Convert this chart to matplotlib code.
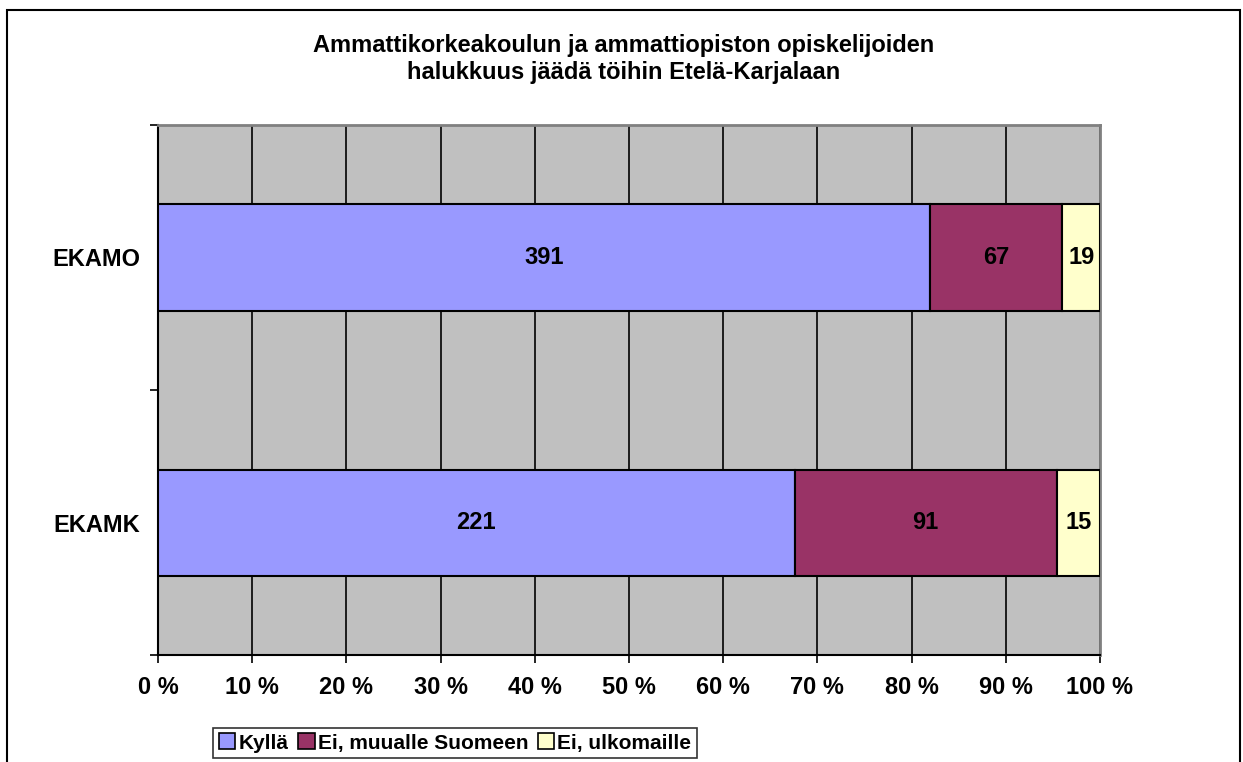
import numpy as np
import matplotlib
matplotlib.use('Agg')
import matplotlib.pyplot as plt
from matplotlib.patches import Rectangle, Patch

plt.rcParams['font.family'] = ['Liberation Sans', 'DejaVu Sans']
plt.rcParams['font.weight'] = 'bold'

# Data
categories = ['EKAMK', 'EKAMO']
kylla = [221, 391]
muualle = [91, 67]
ulkomaille = [15, 19]
series_names = ['Kyllä', 'Ei, muualle Suomeen', 'Ei, ulkomaille']
colors = ['#9999FF', '#993366', '#FFFFCC']
title = 'Ammattikorkeakoulun ja ammattiopiston opiskelijoiden\nhalukkuus jäädä töihin Etelä-Karjalaan'

W, H = 1243, 762
fig = plt.figure(figsize=(W / 100, H / 100), dpi=100)
ax = fig.add_axes([158 / W, 1 - 655 / H, (1100 - 158) / W, (655 - 125) / H])
ax.set_facecolor('#C0C0C0')

series = [np.array(kylla, float), np.array(muualle, float), np.array(ulkomaille, float)]
totals = sum(series)
y = np.arange(len(categories))
left = np.zeros(len(categories))
for vals, name, col in zip(series, series_names, colors):
    share = vals / totals * 100
    ax.barh(y, share, left=left, height=0.4, color=col, edgecolor='black',
            linewidth=1.5, label=name, zorder=3)
    for yi, l, s, v in zip(y, left, share, vals):
        ax.text(l + s / 2, yi, f'{int(v)}', ha='center', va='center',
                fontsize=17, fontweight='bold', zorder=4)
    left += share

ax.set_xlim(0, 100)
ax.set_ylim(-0.5, 1.5)
ax.set_xticks(np.arange(0, 101, 10))
ax.set_xticklabels([f'{t} %' for t in range(0, 101, 10)], fontsize=17, fontweight='bold')
ax.tick_params(axis='x', length=6, width=1.2, pad=9, direction='out')
ax.set_yticks([-0.5, 0.5, 1.5])
ax.set_yticklabels([])
ax.set_yticks(y, minor=True)
ax.set_yticklabels(categories, minor=True, fontsize=17, fontweight='bold')
ax.tick_params(axis='y', which='major', length=6, width=1.2, direction='out')
ax.tick_params(axis='y', which='minor', length=0, pad=13)

ax.grid(axis='x', color='black', linewidth=1.2, zorder=1)
ax.set_axisbelow(True)
for side in ['top', 'right']:
    ax.spines[side].set_color('#808080')
    ax.spines[side].set_linewidth(2)
for side in ['left', 'bottom']:
    ax.spines[side].set_color('black')
    ax.spines[side].set_linewidth(1.5)

fig.text(624 / W, 1 - 59 / H, title, ha='center', va='center', fontsize=17,
         fontweight='bold', linespacing=1.25)

handles = [Patch(facecolor=c, edgecolor='black', linewidth=1.2) for c in colors]
leg = fig.legend(handles, series_names, loc='center', bbox_to_anchor=(455 / W, 1 - 743 / H),
                 ncol=3, frameon=True, fancybox=False, edgecolor='black',
                 prop={'size': 15, 'weight': 'bold'}, handlelength=0.8, handleheight=0.8,
                 handletextpad=0.15, columnspacing=0.45, borderpad=0.25, borderaxespad=0)
leg.get_frame().set_linewidth(1.2)

fig.patches.append(Rectangle((7 / W, -0.05), (1240 - 7) / W, 1.05 - 10 / H,
                             transform=fig.transFigure, fill=False,
                             edgecolor='black', linewidth=1.5))

fig.savefig('out.png', dpi=100)
